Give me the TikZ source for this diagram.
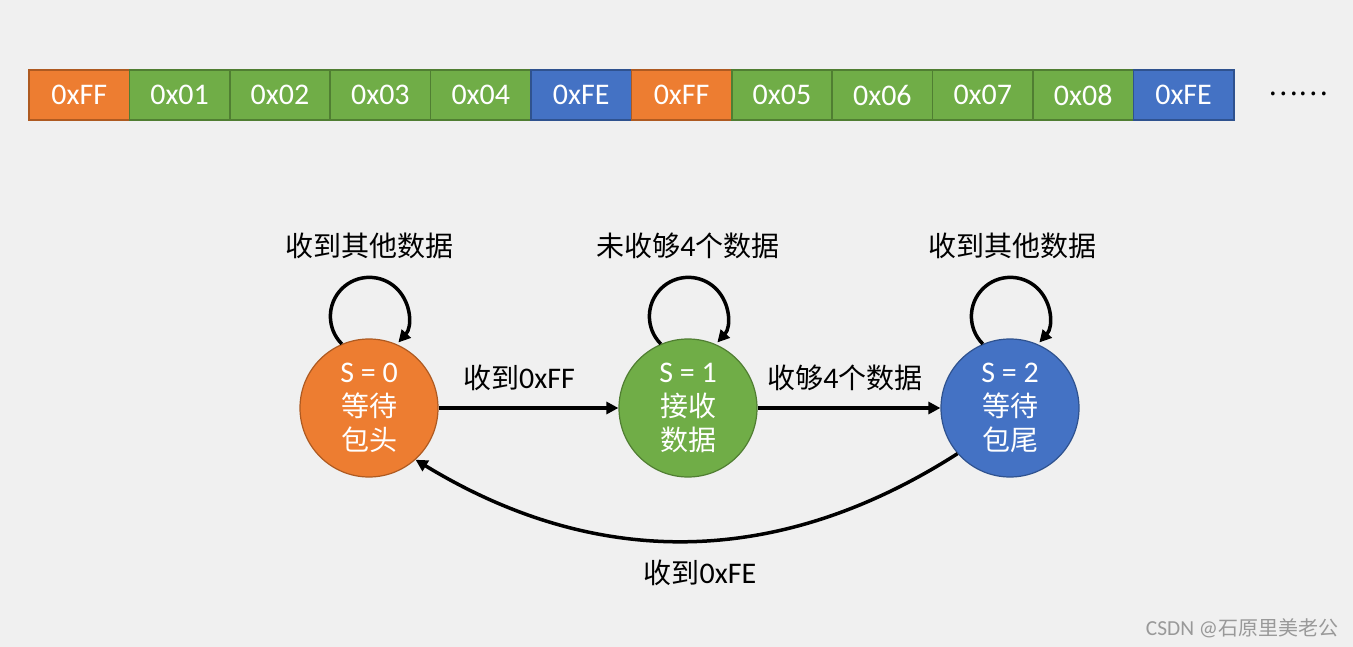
\documentclass[tikz,border=0pt]{standalone}
\usepackage{fontspec}
\setmainfont{Carlito}[Scale=1.07]
\newfontfamily\cjk{Noto Sans CJK SC}
\newcommand\zh[1]{{\cjk #1}}
\usetikzlibrary{arrows.meta}
\definecolor{bgc}{HTML}{F0F0F0}
\definecolor{orf}{HTML}{ED7D31}
\definecolor{ord}{HTML}{AE5A21}
\definecolor{grf}{HTML}{70AD47}
\definecolor{grd}{HTML}{507E32}
\definecolor{blf}{HTML}{4472C4}
\definecolor{bld}{HTML}{2F528F}
\definecolor{wmk}{HTML}{999999}
\tikzset{
  cell/.style={draw, line width=1.5pt, minimum width=100.4pt, minimum height=50pt, inner sep=0pt, text=white, font=\fontsize{28}{34}\selectfont},
  ocell/.style={cell, fill=orf, draw=ord},
  gcell/.style={cell, fill=grf, draw=grd},
  bcell/.style={cell, fill=blf, draw=bld},
  state/.style={circle, line width=1.2pt, minimum size=138pt, inner sep=0pt, align=center, text=white, font=\fontsize{28}{34}\selectfont},
  arr/.style={line width=3.5pt, -{Triangle[length=12pt,width=12pt]}},
  lbl/.style={font=\fontsize{28}{34}\selectfont, inner sep=0pt},
}
\begin{document}
\begin{tikzpicture}[x=1pt,y=1pt]
\fill[bgc] (0,0) rectangle (1353,-647);
\useasboundingbox (0,0) rectangle (1353,-647);
% byte row
\node[ocell] (b1)  at (79.2,-95)   {0xFF};
\node[gcell] (b2)  at (179.6,-95)  {0x01};
\node[gcell] (b3)  at (280.0,-95)  {0x02};
\node[gcell] (b4)  at (380.4,-95)  {0x03};
\node[gcell] (b5)  at (480.8,-95)  {0x04};
\node[bcell] (b6)  at (581.2,-95)  {0xFE};
\node[ocell] (b7)  at (681.6,-95)  {0xFF};
\node[gcell] (b8)  at (782.0,-95)  {0x05};
\node[gcell] (b9)  at (882.4,-95)  {0x06};
\node[gcell] (b10) at (982.8,-95)  {0x07};
\node[gcell] (b11) at (1083.2,-95) {0x08};
\node[bcell] (b12) at (1183.6,-95) {0xFE};
\node[lbl] (dots) at (1298,-94) {\zh{……}};
% states
\node[state, fill=orf, draw=ord] (s0) at (369,-408) {S = 0\\\zh{等待}\\\zh{包头}};
\node[state, fill=grf, draw=grd] (s1) at (688,-408) {S = 1\\\zh{接收}\\\zh{数据}};
\node[state, fill=blf, draw=bld] (s2) at (1010,-408) {S = 2\\\zh{等待}\\\zh{包尾}};
% self loops
\draw[arr] (s0.113) arc[start angle=225, end angle=-42, radius=39];
\draw[arr] (s1.113) arc[start angle=225, end angle=-42, radius=39];
\draw[arr] (s2.113) arc[start angle=225, end angle=-42, radius=39];
% transitions
\draw[arr] (s0) -- (s1);
\draw[arr] (s1) -- (s2);
\draw[arr] (s2.221) to[bend left=32] (s0.312);
% labels
\node[lbl] (l0) at (369,-246) {\zh{收到其他数据}};
\node[lbl] (l1) at (688,-246) {\zh{未收够}4\zh{个数据}};
\node[lbl] (l2) at (1012,-246) {\zh{收到其他数据}};
\node[lbl] (t01) at (519,-378) {\zh{收到}0xFF};
\node[lbl] (t12) at (845,-378) {\zh{收够}4\zh{个数据}};
\node[lbl] (t20) at (700,-573) {\zh{收到}0xFE};
\node[font=\fontsize{20}{24}\selectfont, text=wmk, inner sep=0pt] (wm) at (1242,-628) {CSDN @\zh{石原里美老公}};
\end{tikzpicture}
\end{document}
